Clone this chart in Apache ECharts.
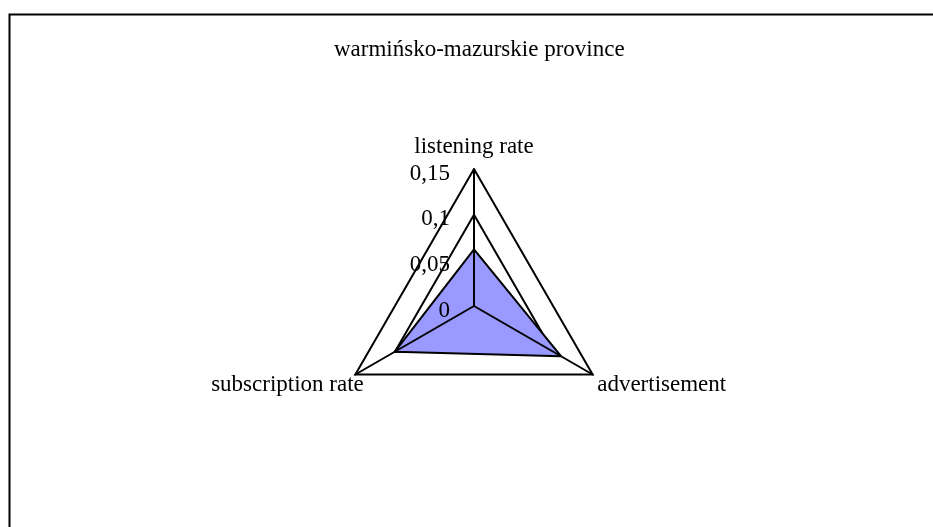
<!DOCTYPE html>
<html>
<head>
<meta charset="utf-8">
<script src="https://cdn.jsdelivr.net/npm/echarts@6/dist/echarts.min.js"></script>
<style>
  html, body { margin: 0; padding: 0; background: #fff; }
  #chart { width: 933px; height: 527px; }
</style>
</head>
<body>
<div id="chart"></div>
<script>
// Radar indicators (counter-clockwise from the top) and values
const titleText = 'warmińsko-mazurskie province';
const indicatorNames = ['listening rate', 'subscription rate', 'advertisement'];
const values = [0.062, 0.1, 0.11];
const axisMax = 0.15;
const axisSplits = 3;

const FONT = '"Liberation Serif", "Times New Roman", serif';
const FONT_SIZE = 23;
const CENTER = [474, 306];
const RADIUS = 137;

// rich style key for each indicator name
const nameStyleKeys = ['top', 'bl', 'br'];

const chart = echarts.init(document.getElementById('chart'), null, { renderer: 'canvas' });

chart.setOption({
  animation: false,
  backgroundColor: '#fff',
  title: {
    text: titleText,
    left: 329,
    top: 33,
    textStyle: { fontFamily: FONT, fontSize: FONT_SIZE, fontWeight: 'normal', color: '#000' }
  },
  graphic: [{
    type: 'rect',
    left: 7, top: 12,
    shape: { width: 1000, height: 1000 },
    style: { fill: 'none', stroke: '#000', lineWidth: 2 }
  }],
  radar: [
    {
      // rings and indicator names
      center: CENTER,
      radius: RADIUS,
      shape: 'polygon',
      startAngle: 90,
      splitNumber: axisSplits,
      indicator: indicatorNames.map(n => ({ name: n, max: axisMax, min: 0 })),
      nameGap: 11,
      axisName: {
        color: '#000',
        fontFamily: FONT,
        fontSize: FONT_SIZE,
        formatter: (name) => {
          const k = nameStyleKeys[indicatorNames.indexOf(name)];
          return '{' + k + '|' + name + '}';
        },
        rich: {
          top: { fontFamily: FONT, fontSize: FONT_SIZE, color: '#000' },
          bl: { fontFamily: FONT, fontSize: FONT_SIZE, color: '#000', padding: [9, -18, 0, 0] },
          br: { fontFamily: FONT, fontSize: FONT_SIZE, color: '#000', padding: [9, 0, 0, -5] }
        }
      },
      axisLine: { show: false },
      splitLine: { lineStyle: { color: '#000', width: 2 } },
      splitArea: { show: false },
      axisLabel: { show: false },
      z: 0
    },
    {
      // spokes and tick labels, drawn above the filled area
      center: CENTER,
      radius: RADIUS,
      shape: 'polygon',
      startAngle: 90,
      splitNumber: axisSplits,
      indicator: indicatorNames.map((n, i) => ({
        name: '',
        max: axisMax,
        min: 0,
        axisLabel: i === 0 ? {
          show: true,
          color: '#000',
          fontFamily: FONT,
          fontSize: FONT_SIZE,
          margin: 24,
          formatter: v => '{v|' + String(+v.toFixed(2)).replace('.', ',') + '}',
          rich: {
            v: { fontFamily: FONT, fontSize: FONT_SIZE, color: '#000', padding: [9, 0, 0, 0] }
          }
        } : { show: false }
      })),
      axisName: { show: false },
      axisLine: { show: true, lineStyle: { color: '#000', width: 2 } },
      splitLine: { show: false },
      splitArea: { show: false },
      axisTick: { show: false },
      axisLabel: { show: false },
      z: 5
    }
  ],
  series: [
    {
      // filled area
      type: 'radar',
      radarIndex: 0,
      z: 2,
      symbol: 'none',
      lineStyle: { width: 0, opacity: 0 },
      areaStyle: { color: '#9999FF', opacity: 1 },
      data: [{ value: values, name: 'warmińsko-mazurskie' }]
    },
    {
      // outline on top of the fill
      type: 'radar',
      radarIndex: 0,
      z: 3,
      symbol: 'none',
      lineStyle: { color: '#000', width: 2 },
      data: [{ value: values, name: 'warmińsko-mazurskie' }]
    }
  ]
});
</script>
</body>
</html>
